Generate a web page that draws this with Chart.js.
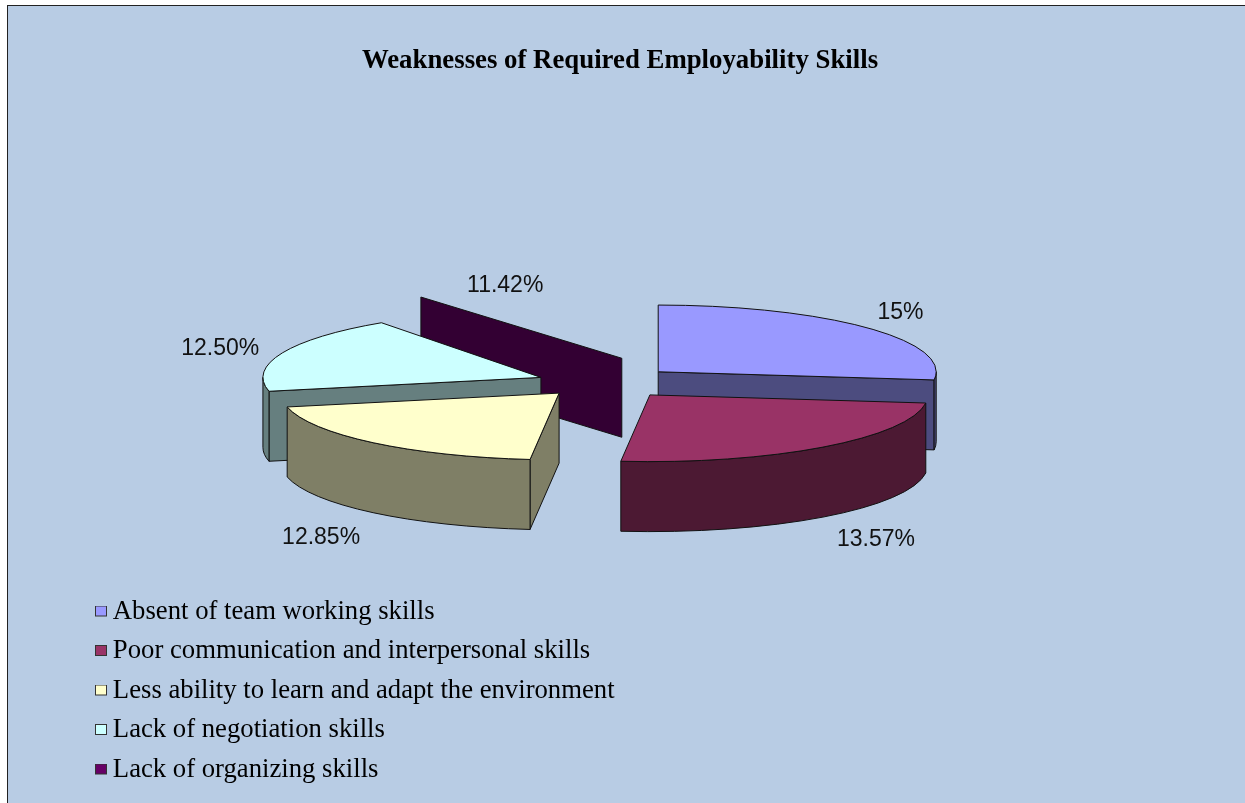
<!DOCTYPE html>
<html>
<head>
<meta charset="utf-8">
<title>Weaknesses of Required Employability Skills</title>
<script src="https://cdn.jsdelivr.net/npm/chart.js@4/dist/chart.umd.min.js"></script>
<style>
	html, body { margin: 0; padding: 0; background: #fff; }
	#panel { position: absolute; left: 7px; top: 5px; right: 0; bottom: 0; background: #B8CCE4; border-left: 1px solid #222; border-top: 1px solid #222; }
	#chart { position: absolute; left: 0; top: 0; }
</style>
</head>
<body>
<div id="panel"></div>
<canvas id="chart" width="1245" height="803"></canvas>
<script>

var categories = [
	"Absent of team working skills",
	"Poor communication and interpersonal skills",
	"Less ability to learn and adapt the environment",
	"Lack of negotiation skills",
	"Lack of organizing skills"
];

// the percentages printed beside the slices
var percentLabels = ["15%", "13.57%", "12.85%", "12.50%", "11.42%"];

// slice sizes in degrees. The drawn slices are
// not proportional to the printed percentages, so both are kept.
var sliceSweeps = [97, 89, 72, 67, 35];

var sliceColors = ["#9999FF", "#993366", "#FFFFCC", "#CCFFFF", "#660066"];

// look of the 3D pie
var pieRadius = 278;
var squash = 0.24;
var sliceDepth = [70, 70, 70, 70, 79];
var sliceExplode = [51, 48, 91, 85, -6];
var sliceLift = [-2, 4, -5, 3, -25];
var wallOnly = [false, false, false, false, true];
var wallReachX = 1.26;
var wallReachY = 1.12;
var paintOrder = [4, 0, 3, 1, 2];
var labelOffsets = [[34, -15], [53, 93], [-52, 95], [-62, -4], [-33, -9]];

function halfColor(hex) {
	var n = parseInt(hex.slice(1), 16);
	var r = (n >> 16) >> 1, g = ((n >> 8) & 255) >> 1, b = (n & 255) >> 1;
	return "rgb(" + r + "," + g + "," + b + ")";
}

// image with the visible box at its right end, so that the legend puts
// the box where the picture has it, close to the text
function legendSwatch(color) {
	var c = document.createElement("canvas");
	c.width = 16;
	c.height = 12;
	var g = c.getContext("2d");
	g.fillStyle = color;
	g.fillRect(4, 0, 12, 11);
	g.strokeStyle = "#333";
	g.strokeRect(4.5, 0.5, 11, 10);
	return c;
}

function faceVisible(apex, edge, mid) {
	if (Math.abs(edge.x - apex.x) < 1)
		return false;
	var lineY = apex.y + (edge.y - apex.y) * (mid.x - apex.x) / (edge.x - apex.x);
	return mid.y < lineY;
}

function drawFace(ctx, a, p, depth, color) {
	ctx.beginPath();
	ctx.moveTo(a.x, a.y);
	ctx.lineTo(p.x, p.y);
	ctx.lineTo(p.x, p.y + depth);
	ctx.lineTo(a.x, a.y + depth);
	ctx.closePath();
	ctx.fillStyle = color;
	ctx.fill();
	ctx.stroke();
}

function drawOuterWall(ctx, apex, start, end, depth, color) {
	var a1 = Math.max(start, 0);
	var a2 = Math.min(end, Math.PI);
	if (a1 >= a2)
		return;
	ctx.beginPath();
	ctx.ellipse(apex.x, apex.y, pieRadius, pieRadius * squash, 0, a1, a2);
	ctx.ellipse(apex.x, apex.y + depth, pieRadius, pieRadius * squash, 0, a2, a1, true);
	ctx.closePath();
	ctx.fillStyle = color;
	ctx.fill();
	ctx.stroke();
}

function rimPoint(apex, angle, reachX, reachY) {
	return {
		x: apex.x + Math.cos(angle) * pieRadius * reachX,
		y: apex.y + Math.sin(angle) * pieRadius * squash * reachY
	};
}

function slicePlace(arc, i) {
	var mid = (arc.startAngle + arc.endAngle) / 2;
	return {
		x: arc.x + Math.cos(mid) * sliceExplode[i],
		y: arc.y + Math.sin(mid) * sliceExplode[i] * squash + sliceLift[i]
	};
}

// paints the pie's arc elements back to front, tilted, with walls under them
var pie3d = {
	id: "pie3d",
	afterLayout: function(chart) {
		var legend = chart.legend;
		legend.left = 85.7;
		legend.right = 1000;
		legend.top = 585.35;
		legend.bottom = 803;
	},
	beforeDatasetsDraw: function(chart) {
		var ctx = chart.ctx;
		var arcs = chart.getDatasetMeta(0).data;
		ctx.lineWidth = 1;
		ctx.lineJoin = "round";
		ctx.strokeStyle = "#111";
		paintOrder.forEach(function(i) {
			var arc = arcs[i];
			var apex = slicePlace(arc, i);
			var start = arc.startAngle, end = arc.endAngle;
			var wall = halfColor(sliceColors[i]);
			var rx = wallOnly[i] ? wallReachX : 1;
			var ry = wallOnly[i] ? wallReachY : 1;
			var p1 = rimPoint(apex, start, rx, ry);
			var p2 = rimPoint(apex, end, rx, ry);
			var pm = rimPoint(apex, (start + end) / 2, rx, ry);
			if (faceVisible(apex, p1, pm))
				drawFace(ctx, apex, p1, sliceDepth[i], wall);
			if (faceVisible(apex, p2, pm))
				drawFace(ctx, apex, p2, sliceDepth[i], wall);
			if (wallOnly[i])
				return;
			drawOuterWall(ctx, apex, start, end, sliceDepth[i], wall);

			var s = pieRadius / arc.outerRadius;
			ctx.save();
			ctx.translate(apex.x, apex.y);
			ctx.scale(s, s * squash);
			ctx.translate(-arc.x, -arc.y);
			arc.draw(ctx);
			ctx.restore();

			ctx.beginPath();
			ctx.moveTo(apex.x, apex.y);
			ctx.ellipse(apex.x, apex.y, pieRadius, pieRadius * squash, 0, start, end);
			ctx.closePath();
			ctx.stroke();
		});
		ctx.fillStyle = "#111";
		ctx.font = "23px 'Liberation Sans'";
		ctx.textAlign = "center";
		ctx.textBaseline = "middle";
		arcs.forEach(function(arc, i) {
			var apex = slicePlace(arc, i);
			var rim = rimPoint(apex, (arc.startAngle + arc.endAngle) / 2, 1, 1);
			ctx.fillText(percentLabels[i], rim.x + labelOffsets[i][0], rim.y + labelOffsets[i][1]);
		});
		return false;
	}
};

new Chart(document.getElementById("chart"), {
	type: "pie",
	plugins: [pie3d],
	data: {
		labels: categories,
		datasets: [{
			data: sliceSweeps,
			backgroundColor: sliceColors,
			borderWidth: 0
		}]
	},
	options: {
		responsive: false,
		animation: false,
		events: [],
		layout: { padding: { left: 0, right: 5, top: 0, bottom: 116.2 } },
		plugins: {
			tooltip: { enabled: false },
			title: {
				display: true,
				text: "Weaknesses of Required Employability Skills",
				color: "#000",
				font: { family: "'Liberation Serif'", size: 26.8, weight: "bold" },
				padding: { top: 44.8, bottom: 0 }
			},
			legend: {
				position: "chartArea",
				align: "start",
				labels: {
					color: "#000",
					font: { family: "'Liberation Serif'", size: 26.7 },
					padding: 12.8,
					usePointStyle: true,
					pointStyleWidth: 1,
					generateLabels: function(chart) {
						return categories.map(function(name, i) {
							return {
								text: name,
								fillStyle: sliceColors[i],
								strokeStyle: "#333",
								lineWidth: 1,
								pointStyle: legendSwatch(sliceColors[i]),
								index: i
							};
						});
					}
				}
			}
		}
	}
});

</script>
</body>
</html>
